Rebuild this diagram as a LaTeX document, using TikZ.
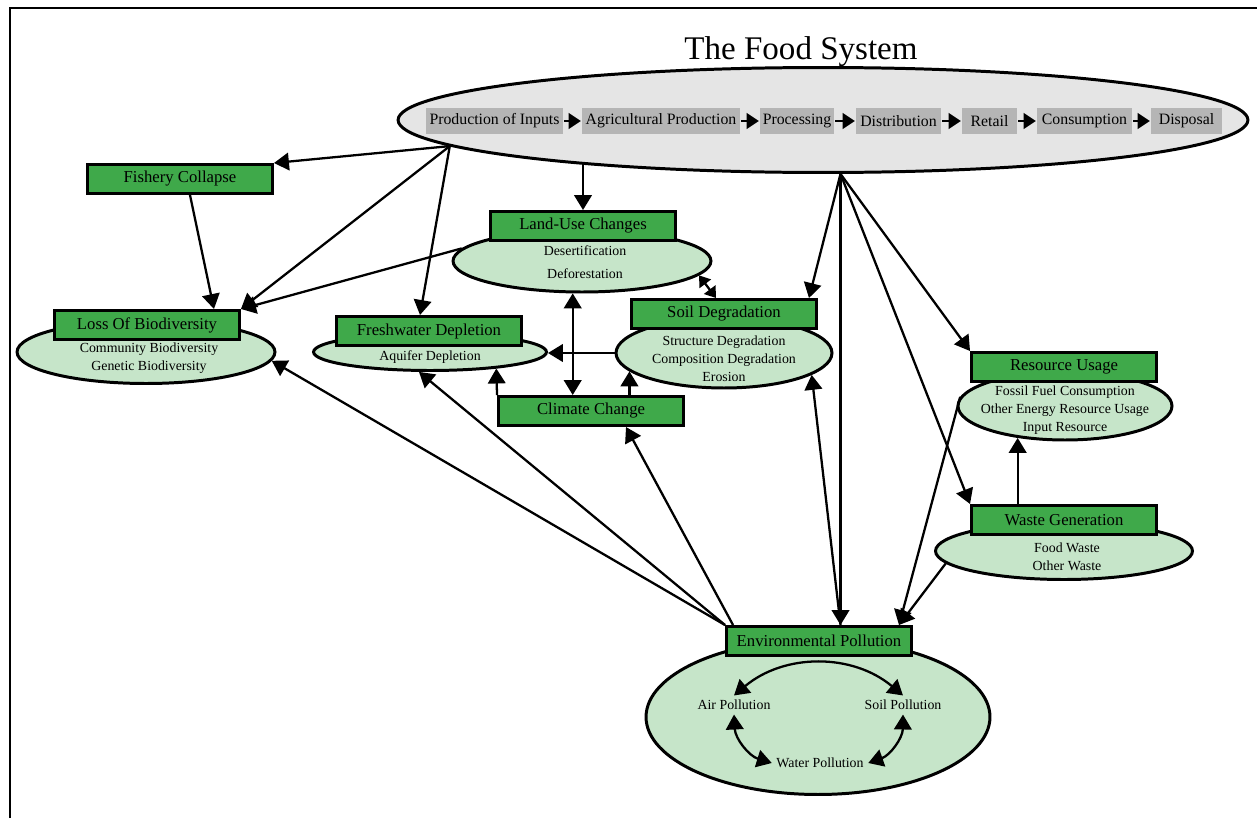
\documentclass[tikz,border=0pt]{standalone}
\usepackage{fontspec}
\setmainfont{Liberation Serif}
\usetikzlibrary{arrows.meta,positioning,shapes.geometric,calc}
\definecolor{boxGreen}{HTML}{3FA94A}
\definecolor{ellGreen}{HTML}{C6E5C9}
\definecolor{sysGrey}{HTML}{E5E5E5}
\definecolor{stageGrey}{HTML}{B5B5B5}
\tikzset{effect box/.style={draw=black, line width=1.7pt, fill=boxGreen, minimum width=3.7cm, minimum height=0.58cm, inner sep=0pt, font=\fontsize{9.5}{11}\selectfont}}
\tikzset{effect ell/.style={ellipse, draw=black, line width=1.7pt, fill=ellGreen, inner sep=0pt}}
\tikzset{sub items/.style={align=center, inner sep=1.5pt, font=\fontsize{7.9}{10.3}\selectfont}}
\tikzset{stage box/.style={fill=stageGrey, minimum height=0.54cm, inner sep=0pt, font=\fontsize{9}{11}\selectfont}}
\tikzset{stage arrow/.style={-{Triangle[length=7pt,width=9pt]}, line width=1.1pt}}

\begin{document}
\begin{tikzpicture}[x=0.02cm, y=-0.02cm, ->, >={Triangle[length=8.5pt,width=10pt]}, line width=1.3pt]
	\useasboundingbox (0,0) rectangle (1257,818);
	\draw[-, line width=0.8pt] (10,818) -- (10,8) -- (1257,8);
	% the food system and its stages
	\node[ellipse, draw=black, line width=1.7pt, fill=sysGrey, minimum width=17cm, minimum height=2.1cm] at (823,120) (food) {};
	\node[font=\fontsize{18.8}{22}\selectfont] at (801,52) (title) {The Food System};
	\node[stage box, minimum width=2.74cm] at (494.5,121) (inputs) {Production of Inputs};
	\node[stage box, minimum width=3.16cm] at (661,121) (agri) {Agricultural Production};
	\node[stage box, minimum width=1.48cm] at (797,121) (proc) {Processing};
	\node[stage box, minimum width=1.70cm] at (898.5,121) (distr) {Distribution};
	\node[stage box, minimum width=1.10cm] at (989.5,121) (retail) {Retail};
	\node[stage box, minimum width=1.90cm] at (1084.5,121) (consum) {Consumption};
	\node[stage box, minimum width=1.42cm] at (1186.5,121) (disp) {Disposal};
	\path (inputs) edge[stage arrow] (agri);
	\path (agri) edge[stage arrow] (proc);
	\path (proc) edge[stage arrow] (distr);
	\path (distr) edge[stage arrow] (retail);
	\path (retail) edge[stage arrow] (consum);
	\path (consum) edge[stage arrow] (disp);
	% effects
	\node[effect ell, minimum width=5.16cm, minimum height=1.24cm] at (582,261) (luce) {};
	\node[effect ell, minimum width=5.16cm, minimum height=1.26cm] at (146,352) (lobe) {};
	\node[effect ell, minimum width=4.66cm, minimum height=0.74cm] at (430,352) (freshe) {};
	\node[effect ell, minimum width=4.32cm, minimum height=1.40cm] at (724,353) (soile) {};
	\node[effect ell, minimum width=4.28cm, minimum height=1.36cm] at (1065,406) (resourcee) {};
	\node[effect ell, minimum width=5.14cm, minimum height=1.14cm] at (1064,551) (wastee) {};
	\node[effect ell, minimum width=6.88cm, minimum height=3.10cm] at (818,717) (enve) {};
	\node[effect box] at (180,179) (fishery) {Fishery Collapse};
	\node[effect box] at (583,226) (luc) {Land-Use Changes};
	\node[effect box] at (147,325) (lob) {Loss Of Biodiversity};
	\node[effect box] at (429,331) (fresh) {Freshwater Depletion};
	\node[effect box] at (724,314) (soil) {Soil Degradation};
	\node[effect box] at (591,411) (climate) {Climate Change};
	\node[effect box] at (1064,367) (resource) {Resource Usage};
	\node[effect box] at (1064,520) (waste) {Waste Generation};
	\node[effect box] at (819,641) (env) {Environmental Pollution};
	\node[sub items] at (585,262) (lucT) {Desertification\\[2.8pt]Deforestation};
	\node[sub items] at (149,358) (lobT) {Community Biodiversity\\Genetic Biodiversity};
	\node[sub items] at (430,357) (freshT) {Aquifer Depletion};
	\node[sub items] at (724,359) (soilT) {Structure Degradation\\Composition Degradation\\Erosion};
	\node[sub items] at (1065,410) (resourceT) {Fossil Fuel Consumption\\Other Energy Resource Usage\\Input Resource};
	\node[sub items] at (1067,557) (wasteT) {Food Waste\\Other Waste};
	\node[sub items, inner sep=2pt] at (734,705) (air) {Air Pollution};
	\node[sub items, inner sep=2pt] at (903,705) (soilp) {Soil Pollution};
	\node[sub items, inner sep=2pt] at (820,763) (water) {Water Pollution};
	% links
	\path (food.184) edge (fishery.north east);
	\path (food.184) edge (lob.north east);
	\path (food.184) edge ($(fresh.north)+(-9,0)$);
	\path (luc.north |- food.190) edge (luc.north);
	\path (food.288) edge ($(soil.north east)+(-9,0)$);
	\path (food.288) edge (food.288 |- env.north);
	\path (food.288) edge (resource.north west);
	\path (food.288) edge (waste.north west);
	\path (luce.174) edge (lob.north east);
	\path ($(fishery.south)+(10,0)$) edge ($(lob.north east)+(-27,0)$);
	\path (luce.353) edge[{Triangle[length=6pt,width=8pt]}-{Triangle[length=6pt,width=8pt]}] ($(soil.north)+(-8,0)$);
	\path (luce.254) edge[<->] (luce.254 |- climate.north);
	\path (soile.west) edge (soile.west -| freshe.east);
	\path (soile.191 |- climate.north) edge (soile.191);
	\path (climate.north west) edge (freshe.346);
	\path (env.north west) edge (lobe.356);
	\path (env.north west) edge (freshe.241);
	\path ($(env.north west)+(8,0)$) edge ($(climate.south)+(35,0)$);
	\path (food.288 |- env.north) edge (soile.346);
	\path (resourcee.175) edge ($(env.north east)+(-14,0)$);
	\path (wastee.186) edge ($(env.north east)+(-14,0)$);
	\path (resourcee.214 |- waste.north) edge (resourcee.214);
	\path (air.north) edge[<->, bend left=40] (soilp.north);
	\path (air.south) edge[<->, bend right=35] (water.west);
	\path (soilp.south) edge[<->, bend left=35] (water.east);
\end{tikzpicture}
\end{document}
